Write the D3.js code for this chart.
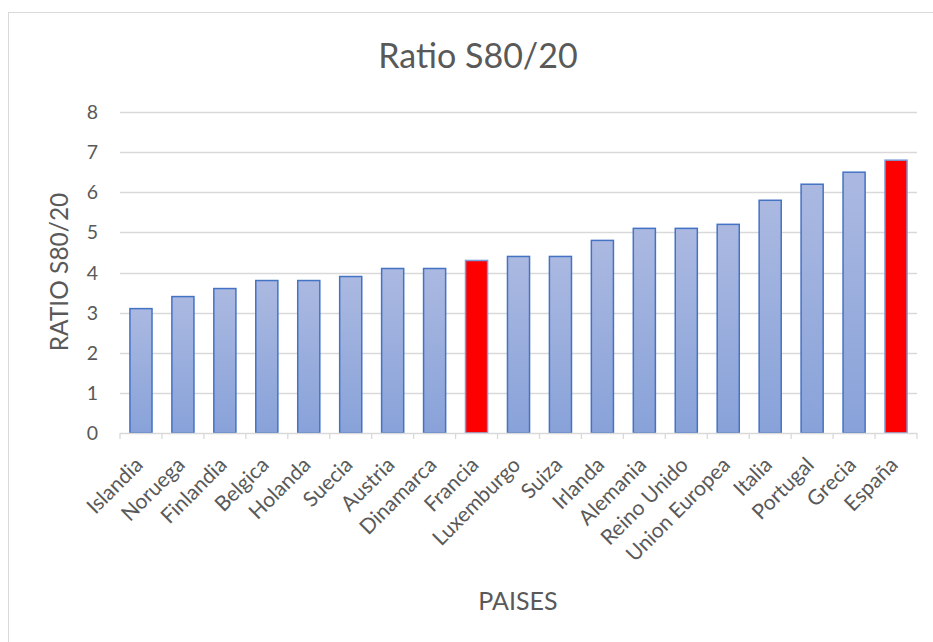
<!DOCTYPE html>
<html><head><meta charset="utf-8">
<script src="https://cdn.jsdelivr.net/npm/d3@7"></script>
<style>body{margin:0;background:#fff}svg{display:block}text{font-family:Lato,"Open Sans",sans-serif;fill:#595959}</style>
</head><body><svg id="c" width="933" height="642"></svg>
<script>
const categories=["Islandia","Noruega","Finlandia","Belgica","Holanda","Suecia","Austria","Dinamarca","Francia","Luxemburgo","Suiza","Irlanda","Alemania","Reino Unido","Union Europea","Italia","Portugal","Grecia","España"];
const values=[3.1,3.4,3.6,3.8,3.8,3.9,4.1,4.1,4.3,4.4,4.4,4.8,5.1,5.1,5.2,5.8,6.2,6.5,6.8];
const highlighted=["Francia","España"];
const yTicks=[0,1,2,3,4,5,6,7,8];
const title="Ratio S80/20", yTitle="RATIO S80/20", xTitle="PAISES";

const svg=d3.select("#c");
const defs=svg.append("defs");
const g=defs.append("linearGradient").attr("id","bg").attr("x1",0).attr("y1",0).attr("x2",0).attr("y2",1);
g.append("stop").attr("offset","0%").attr("stop-color","#abb9e1");
g.append("stop").attr("offset","100%").attr("stop-color","#88a2d9");

svg.append("rect").attr("x",8.5).attr("y",12.5).attr("width",940).attr("height",640).attr("fill","#fff").attr("stroke","#d9d9d9");

const x=d3.scaleBand().domain(categories).range([120,917]).paddingInner(0.9/1.9).paddingOuter(0.45/1.9);
const y=d3.scaleLinear().domain([0,8]).range([433,112]);

// gridlines
svg.append("g").selectAll("line").data(yTicks.filter(d=>d>0)).join("line")
 .attr("x1",120).attr("x2",917).attr("y1",d=>Math.round(y(d))+0.5).attr("y2",d=>Math.round(y(d))+0.5)
 .attr("stroke","#d9d9d9").attr("stroke-width",1.3);

// y labels
svg.append("g").selectAll("text").data(yTicks).join("text")
 .attr("x",98).attr("y",d=>y(d)).attr("dy","0.36em").attr("text-anchor","end")
 .attr("font-size",19.5).text(d=>d);

// bars
svg.append("g").selectAll("rect").data(categories).join("rect")
 .attr("x",d=>x(d)).attr("width",x.bandwidth())
 .attr("y",(d,i)=>y(values[i])).attr("height",(d,i)=>y(0)-y(values[i]))
 .attr("fill",d=>highlighted.includes(d)?"#ff0000":"url(#bg)")
 .attr("stroke",d=>highlighted.includes(d)?"#7a9bd8":"#4472c4").attr("stroke-width",1.5);

// x axis
const step=x.step();
svg.append("line").attr("x1",120).attr("x2",917).attr("y1",433.5).attr("y2",433.5).attr("stroke","#d9d9d9").attr("stroke-width",1.3);
svg.append("g").selectAll("line").data(d3.range(categories.length+1)).join("line")
 .attr("x1",i=>120+i*step).attr("x2",i=>120+i*step).attr("y1",433).attr("y2",439)
 .attr("stroke","#d9d9d9").attr("stroke-width",1.3);

svg.append("g").selectAll("text").data(categories).join("text")
 .attr("transform",d=>`translate(${x(d)+x.bandwidth()/2-2},${461}) rotate(-45)`)
 .attr("text-anchor","end").attr("dy","0.35em").attr("font-size",21).text(d=>d);

svg.append("text").attr("x",478).attr("y",68).attr("text-anchor","middle").attr("font-size",34).text(title);
svg.append("text").attr("transform","translate(68,272) rotate(-90)").attr("text-anchor","middle").attr("font-size",24.5).text(yTitle);
svg.append("text").attr("x",518).attr("y",610).attr("text-anchor","middle").attr("font-size",25).text(xTitle);
</script></body></html>
